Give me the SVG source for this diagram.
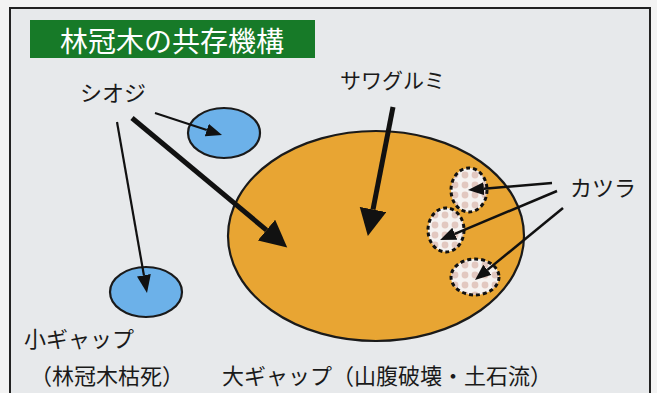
<svg xmlns="http://www.w3.org/2000/svg" width="657" height="393" viewBox="0 0 657 393">
<style>
.lbl{font-family:"Noto Sans CJK JP","Noto Sans",sans-serif;font-size:22px;fill:#1a1a1a}
.gap{stroke:#1a1a1a;stroke-width:2.2}
.thin{stroke:#111;stroke-width:2.2;fill:none}
.thick{stroke:#111;stroke-width:5;fill:none}
.kat{fill:url(#dots);stroke:#111;stroke-width:3;stroke-dasharray:4 3}
</style>
<defs>
<pattern id="dots" patternUnits="userSpaceOnUse" width="10" height="10">
<rect width="10" height="10" fill="#f6f2f0"/>
<circle cx="5" cy="5" r="3.4" fill="#e2c8c0"/>
</pattern>
<marker id="hs" markerUnits="userSpaceOnUse" markerWidth="17" markerHeight="14" refX="0" refY="6.5" orient="auto"><path d="M0,0 L16,6.5 L0,13 z" fill="#111"/></marker>
<marker id="hm" markerUnits="userSpaceOnUse" markerWidth="19" markerHeight="15" refX="0" refY="7" orient="auto"><path d="M0,0 L18,7 L0,14 z" fill="#111"/></marker>
<marker id="hb" markerUnits="userSpaceOnUse" markerWidth="28" markerHeight="28" refX="0" refY="13.5" orient="auto"><path d="M0,0 L27,13.5 L0,27 z" fill="#111"/></marker>
</defs>
<rect width="657" height="393" fill="#f3f3f3"/>
<rect x="10" y="8" width="640" height="400" fill="#e7e9eb" stroke="#222" stroke-width="2"/>
<g id="title">
<rect x="30" y="20" width="285" height="38" fill="#177a28"/>
<text x="172" y="52" text-anchor="middle" style="font-family:'Noto Sans CJK JP','Noto Sans',sans-serif;font-size:28px;fill:#fff">林冠木の共存機構</text>
</g>
<g id="large-gap">
<ellipse cx="376" cy="236" rx="148" ry="105" fill="#e8a533" class="gap"/>
</g>
<g id="small-gap-top">
<ellipse cx="224" cy="133" rx="36" ry="25" fill="#6cb1e9" class="gap"/>
</g>
<g id="small-gap-bottom">
<ellipse cx="146" cy="292" rx="36" ry="25" fill="#6cb1e9" class="gap"/>
</g>
<g id="katsura-1"><ellipse cx="469" cy="190" rx="18" ry="22" class="kat"/></g>
<g id="katsura-2"><ellipse cx="446" cy="230" rx="18" ry="22" class="kat"/></g>
<g id="katsura-3"><ellipse cx="475" cy="277" rx="24" ry="18" class="kat"/></g>
<g id="labels">
<text class="lbl" x="80" y="101">シオジ</text>
<text class="lbl" x="340" y="88" style="font-size:21px">サワグルミ</text>
<text class="lbl" x="570" y="196">カツラ</text>
<text class="lbl" x="24" y="347">小ギャップ</text>
<text class="lbl" x="30" y="384">（林冠木枯死）</text>
<text class="lbl" x="222" y="384">大ギャップ（山腹破壊・土石流）</text>
</g>
<g id="connectors">
<line class="thin" x1="155" y1="113" x2="206.8" y2="130" marker-end="url(#hs)"/>
<line class="thin" x1="117" y1="122" x2="143.9" y2="275.3" marker-end="url(#hm)"/>
<line class="thick" x1="132" y1="118" x2="266.5" y2="230.1" marker-end="url(#hb)"/>
<line class="thick" x1="393" y1="107" x2="373" y2="209.5" marker-end="url(#hb)"/>
<line class="thin" style="stroke-width:2.5" x1="552" y1="183" x2="483.9" y2="188.7" marker-end="url(#hs)"/>
<line class="thin" style="stroke-width:2.5" x1="557" y1="191" x2="454.8" y2="233.8" marker-end="url(#hs)"/>
<line class="thin" style="stroke-width:2.5" x1="563" y1="208" x2="487.4" y2="269.9" marker-end="url(#hs)"/>
</g>
</svg>
